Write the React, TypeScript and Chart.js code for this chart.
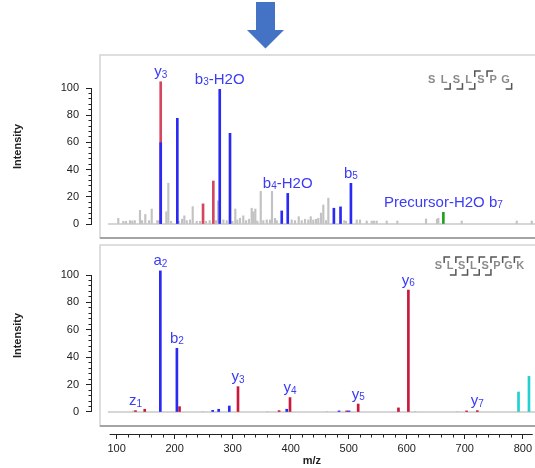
import React, { useEffect, useRef } from 'react';
import { Chart, registerables } from 'chart.js';

Chart.register(...registerables);

const FONT = "'Liberation Sans', Arial, sans-serif";

// ---- axes ----
const X_MIN = 55.9;
const X_MAX = 817.1;
const X_TICKS = [100, 200, 300, 400, 500, 600, 700, 800];
const Y_TICKS = [0, 20, 40, 60, 80, 100];
const X_MINOR_STEP = 20;
const Y_MINOR_STEP = 4;
const X_AXIS_START = 88;
const BASELINE_MZ = [85, 830];

// ---- top spectrum ----
const TOP_GREY_MZ = [102.7, 111.3, 115.9, 122.8, 126.7, 130.9, 139.9, 143.4, 149.0, 155.4, 160.0, 169.6, 172.5, 185.0, 188.5, 193.1, 206.3, 212.0, 215.9, 220.0, 225.7, 230.3, 237.1, 242.8, 253.1, 259.4, 270.2, 273.7, 282.8, 288.6, 298.2, 303.3, 306.8, 311.4, 317.0, 321.7, 326.8, 331.4, 334.2, 337.6, 341.0, 346.9, 351.3, 357.2, 362.8, 366.2, 371.4, 374.3, 400.0, 405.7, 412.0, 417.2, 422.8, 428.5, 432.6, 437.0, 441.7, 445.6, 450.2, 454.2, 458.8, 462.8, 490.2, 493.1, 511.5, 517.1, 528.6, 537.2, 541.1, 545.7, 562.9, 581.1, 630.3, 649.1, 651.3, 691.5, 785.8, 811.5];
const TOP_GREY_INT = [4.2, 2, 2, 2.5, 2.2, 2.5, 10, 2.5, 7, 2.5, 11, 2.5, 2.5, 9, 30, 2, 2, 3.5, 6, 2.5, 3, 12.8, 2, 2, 2, 2.5, 2.5, 17, 3, 2.5, 2, 11, 3, 4.2, 6, 2.5, 3.5, 11.6, 9, 11, 2.2, 24, 2.5, 3, 3, 24, 4.2, 2.5, 3, 2.5, 5.4, 2.5, 3.5, 3, 5.4, 3, 3.5, 4.2, 8, 14, 2.5, 19, 2.5, 2, 3, 3, 2.2, 2.2, 2.2, 2.2, 2.2, 2.2, 3.7, 3.5, 4.2, 2.2, 2.2, 2.2];
const TOP_BLUE_MZ = [175.4, 203.9, 276.6, 294.2, 382.9, 393.2, 472.3, 483.7, 501.5];
const TOP_BLUE_INT = [59.8, 77.7, 99, 66.7, 9.6, 22.5, 11.6, 12.6, 29.9];
const TOP_RED_MZ = [175.4, 248.0, 265.6];
const TOP_RED_INT = [104.6, 14.8, 31.6];
const TOP_GREEN_MZ = [660.0];
const TOP_GREEN_INT = [8.6];
const TOP_LABELS = [
  { mz: 175.4, text: 'y_3' },
  { mz: 276.6, text: 'b_3-H2O' },
  { mz: 393.2, text: 'b_4-H2O' },
  { mz: 501.5, text: 'b_5' },
  { mz: 660.0, text: 'Precursor-H2O b_7' },
];
const TOP_SEQUENCE = 'SLSLSPG';
const TOP_SEQ_UPPER = [4, 5];
const TOP_SEQ_LOWER = [2, 3, 4, 7];

// ---- bottom spectrum ----
const BOT_GREY_MZ = [128.5, 248.5, 360.0, 462.8, 614.3, 687.4];
const BOT_GREY_INT = [0.8, 0.5, 0.5, 0.5, 0.5, 0.5];
const BOT_BLUE_MZ = [175.4, 203.9, 265.6, 275.9, 294.2, 393.2, 483.3, 500.5];
const BOT_BLUE_INT = [103, 46.5, 1.2, 2, 4.4, 2, 0.8, 0.8];
const BOT_RED_MZ = [132.6, 148.5, 208.5, 309.2, 380.0, 398.8, 496.5, 516.3, 585.7, 602.8, 703.1, 721.6];
const BOT_RED_INT = [1, 2, 3.9, 18.5, 1, 10.5, 0.8, 5.8, 3, 89, 0.8, 1];
const BOT_CYAN_MZ = [792.6, 810.6];
const BOT_CYAN_INT = [14.6, 26];
const BOT_LABELS = [
  { mz: 132.6, text: 'z_1' },
  { mz: 175.4, text: 'a_2' },
  { mz: 203.9, text: 'b_2' },
  { mz: 309.2, text: 'y_3' },
  { mz: 398.8, text: 'y_4' },
  { mz: 516.3, text: 'y_5' },
  { mz: 602.8, text: 'y_6' },
  { mz: 721.6, text: 'y_7' },
];
const BOT_SEQUENCE = 'SLSLSPGK';
const BOT_SEQ_UPPER = [1, 2, 3, 4, 5, 6, 7];
const BOT_SEQ_LOWER = [2, 3, 4, 5];

const BLUE = '#2a2af2';
const LABEL_BLUE = '#3c3cf5';
const GREY = '#c2c2c2';

const ap = (v: number) => Math.round(v - 0.5) + 0.5;

const decorPlugin = {
  id: 'decor',
  beforeDatasetsDraw(chart: any, _a: any, o: any) {
    const ctx = chart.ctx;
    const f = o.frame;
    ctx.save();
    ctx.strokeStyle = '#d4d4d4';
    ctx.lineWidth = 1.5;
    ctx.strokeRect(f.x, f.top, chart.width + 20 - f.x, f.bottom - f.top);
    ctx.strokeStyle = '#a4a4a4';
    ctx.lineWidth = 2;
    ctx.beginPath();
    ctx.moveTo(f.x, f.bottom);
    ctx.lineTo(chart.width, f.bottom);
    ctx.stroke();
    ctx.restore();
  },
  afterDraw(chart: any, _a: any, o: any) {
    const ctx = chart.ctx;
    const ca = chart.chartArea;
    const xs = chart.scales.x;
    const ys = chart.scales.y;
    const line = (x1: number, y1: number, x2: number, y2: number) => {
      ctx.beginPath();
      ctx.moveTo(x1, y1);
      ctx.lineTo(x2, y2);
      ctx.stroke();
    };
    ctx.save();
    ctx.strokeStyle = '#222';
    ctx.lineWidth = 1;
    // y axis line + minor ticks
    const yl = ap(ca.left);
    line(yl, ap(ys.getPixelForValue(0)) + 0.5, yl, ap(ys.getPixelForValue(100)) - 0.5);
    for (let v = 0; v <= 100; v += Y_MINOR_STEP) {
      if (Y_TICKS.includes(v)) continue;
      const y = ap(ys.getPixelForValue(v));
      line(yl - 3, y, yl, y);
    }
    // x axis line + minor ticks
    if (o.showX) {
      const xl = ap(ca.bottom);
      line(xs.getPixelForValue(X_AXIS_START), xl, ca.right, xl);
      for (let v = X_TICKS[0]; v <= X_MAX; v += X_MINOR_STEP) {
        if (X_TICKS.includes(v)) continue;
        const x = ap(xs.getPixelForValue(v));
        line(x, xl, x, xl + 3);
      }
    }
    // y title
    ctx.fillStyle = '#222';
    ctx.font = `bold 11px ${FONT}`;
    ctx.textAlign = 'center';
    ctx.textBaseline = 'middle';
    ctx.save();
    ctx.translate(18, (o.frame.top + o.frame.bottom) / 2);
    ctx.rotate(-Math.PI / 2);
    ctx.fillText('Intensity', 0, 0);
    ctx.restore();

    // peak labels
    const bars = chart.data.datasets.filter((d: any) => d.type === 'bar');
    ctx.fillStyle = LABEL_BLUE;
    ctx.textAlign = 'left';
    ctx.textBaseline = 'alphabetic';
    for (const lab of o.labels) {
      let top = 0;
      for (const d of bars) for (const p of d.data) if (Math.abs(p.x - lab.mz) < 0.05) top = Math.max(top, p.y);
      const cx = xs.getPixelForValue(lab.mz);
      const by = ys.getPixelForValue(top) - 5.5;
      const segs: { t: string; sub: boolean; w: number }[] = [];
      const s = lab.text;
      for (let i = 0; i < s.length; i++) {
        if (s[i] === '_') {
          segs.push({ t: s[i + 1], sub: true, w: 0 });
          i++;
        } else if (segs.length && !segs[segs.length - 1].sub) segs[segs.length - 1].t += s[i];
        else segs.push({ t: s[i], sub: false, w: 0 });
      }
      let w = 0;
      for (const g of segs) {
        ctx.font = g.sub ? `10px ${FONT}` : `15px ${FONT}`;
        g.w = ctx.measureText(g.t).width;
        w += g.w;
      }
      let x = cx - w / 2;
      for (const g of segs) {
        ctx.font = g.sub ? `10px ${FONT}` : `15px ${FONT}`;
        ctx.fillText(g.t, x, by + (g.sub ? 1.5 : 0));
        x += g.w;
      }
    }

    // sequence annotation
    const q = o.seq;
    ctx.font = `bold 11px ${FONT}`;
    ctx.fillStyle = '#8a8a8a';
    ctx.textAlign = 'center';
    ctx.textBaseline = 'middle';
    for (let i = 0; i < q.letters.length; i++) ctx.fillText(q.letters[i], q.x0 + i * q.step, q.y);
    ctx.strokeStyle = '#555';
    ctx.lineWidth = 1.5;
    for (const k of q.upper) {
      const cx = q.x0 + q.step * (k - 0.5);
      ctx.beginPath();
      ctx.moveTo(cx, q.y - 3);
      ctx.lineTo(cx, q.y - 9);
      ctx.lineTo(cx + 6, q.y - 9);
      ctx.stroke();
    }
    for (const k of q.lower) {
      const cx = q.x0 + q.step * (k - 0.5);
      ctx.beginPath();
      ctx.moveTo(cx, q.y + 3);
      ctx.lineTo(cx, q.y + 9);
      ctx.lineTo(cx - 6, q.y + 9);
      ctx.stroke();
    }
    ctx.restore();
  },
};

function makeConfig(p: any) {
  const pts = (mz: number[], it: number[]) => mz.map((x, i) => ({ x, y: it[i] }));
  const datasets: any[] = p.series.map((s: any, i: number) => ({
    type: 'bar',
    label: s.name,
    data: pts(s.mz, s.int),
    backgroundColor: s.color,
    borderWidth: 0,
    barThickness: s.thickness,
    grouped: false,
    clip: false,
    order: i,
  }));
  datasets.push({
    type: 'line',
    label: 'baseline',
    data: BASELINE_MZ.map((x) => ({ x, y: 0 })),
    borderColor: '#c8c8c8',
    borderWidth: 1.5,
    pointRadius: 0,
    order: 20,
    clip: false,
  });
  return {
    type: 'bar',
    data: { datasets },
    options: {
      animation: false,
      responsive: false,
      events: [],
      layout: { padding: { top: p.padTop, bottom: p.padBottom, left: 0, right: 0 } },
      plugins: {
        legend: { display: false },
        tooltip: { enabled: false },
        decor: p.decor,
      },
      scales: {
        x: {
          type: 'linear',
          min: X_MIN,
          max: X_MAX,
          display: p.showX,
          offset: false,
          afterBuildTicks: (s: any) => {
            s.ticks = X_TICKS.map((v) => ({ value: v }));
          },
          afterFit: (s: any) => {
            s.height = p.showX ? 34 : 0;
          },
          grid: { display: true, drawOnChartArea: false, drawTicks: true, tickLength: 5, tickColor: '#222', offset: false },
          border: { display: false },
          ticks: { color: '#222', font: { family: FONT, size: 11 }, padding: 3, maxRotation: 0, autoSkip: false },
          title: {
            display: true,
            text: 'm/z',
            color: '#222',
            font: { family: FONT, size: 11, weight: 'bold' },
            padding: { top: 0, bottom: 0 },
          },
        },
        y: {
          type: 'linear',
          min: p.yMin,
          max: 100,
          afterBuildTicks: (s: any) => {
            s.ticks = Y_TICKS.map((v) => ({ value: v }));
          },
          afterFit: (s: any) => {
            s.width = 91;
          },
          grid: { display: true, drawOnChartArea: false, drawTicks: true, tickLength: 5, tickColor: '#222' },
          border: { display: false },
          ticks: { color: '#222', font: { family: FONT, size: 11 }, padding: 7 },
        },
      },
    },
    plugins: [decorPlugin],
  };
}

const TOP_PANEL = {
  padTop: 88,
  padBottom: 16,
  yMin: 0,
  showX: false,
  series: [
    { name: 'b ions', mz: TOP_BLUE_MZ, int: TOP_BLUE_INT, color: BLUE, thickness: 2 },
    { name: 'y ions', mz: TOP_RED_MZ, int: TOP_RED_INT, color: '#d4475f', thickness: 2 },
    { name: 'precursor', mz: TOP_GREEN_MZ, int: TOP_GREEN_INT, color: '#22a022', thickness: 2 },
    { name: 'unassigned', mz: TOP_GREY_MZ, int: TOP_GREY_INT, color: GREY, thickness: 1.5 },
  ],
  decor: {
    showX: false,
    frame: { x: 100, top: 55, bottom: 238 },
    labels: TOP_LABELS,
    seq: { letters: TOP_SEQUENCE, x0: 431.7, step: 12.3, y: 80, upper: TOP_SEQ_UPPER, lower: TOP_SEQ_LOWER },
  },
};

const BOT_PANEL = {
  padTop: 35,
  padBottom: 0,
  yMin: -16.06,
  showX: true,
  series: [
    { name: 'a/b ions', mz: BOT_BLUE_MZ, int: BOT_BLUE_INT, color: BLUE, thickness: 2 },
    { name: 'y/z ions', mz: BOT_RED_MZ, int: BOT_RED_INT, color: '#c8193c', thickness: 2 },
    { name: 'other', mz: BOT_CYAN_MZ, int: BOT_CYAN_INT, color: '#22d0d0', thickness: 2 },
    { name: 'unassigned', mz: BOT_GREY_MZ, int: BOT_GREY_INT, color: GREY, thickness: 1.5 },
  ],
  decor: {
    showX: true,
    frame: { x: 100, top: 5, bottom: 186 },
    labels: BOT_LABELS,
    seq: { letters: BOT_SEQUENCE, x0: 438.3, step: 11.7, y: 26, upper: BOT_SEQ_UPPER, lower: BOT_SEQ_LOWER },
  },
};

export default function App() {
  const topRef = useRef<HTMLCanvasElement>(null);
  const botRef = useRef<HTMLCanvasElement>(null);
  useEffect(() => {
    const c1 = new Chart(topRef.current as HTMLCanvasElement, makeConfig(TOP_PANEL) as any);
    const c2 = new Chart(botRef.current as HTMLCanvasElement, makeConfig(BOT_PANEL) as any);
    return () => {
      c1.destroy();
      c2.destroy();
    };
  }, []);
  return (
    <div style={{ position: 'absolute', left: 0, top: 0, width: 535, height: 468, background: '#fff', overflow: 'hidden' }}>
      <svg width={535} height={60} style={{ position: 'absolute', left: 0, top: 0 }}>
        <polygon points="256,2 275,2 275,30 284,30 265.5,48.5 247,30 256,30" fill="#4472C4" />
      </svg>
      <canvas ref={topRef} width={535} height={240} style={{ position: 'absolute', left: 0, top: 0, display: 'block' }} />
      <canvas ref={botRef} width={535} height={228} style={{ position: 'absolute', left: 0, top: 240, display: 'block' }} />
    </div>
  );
}
